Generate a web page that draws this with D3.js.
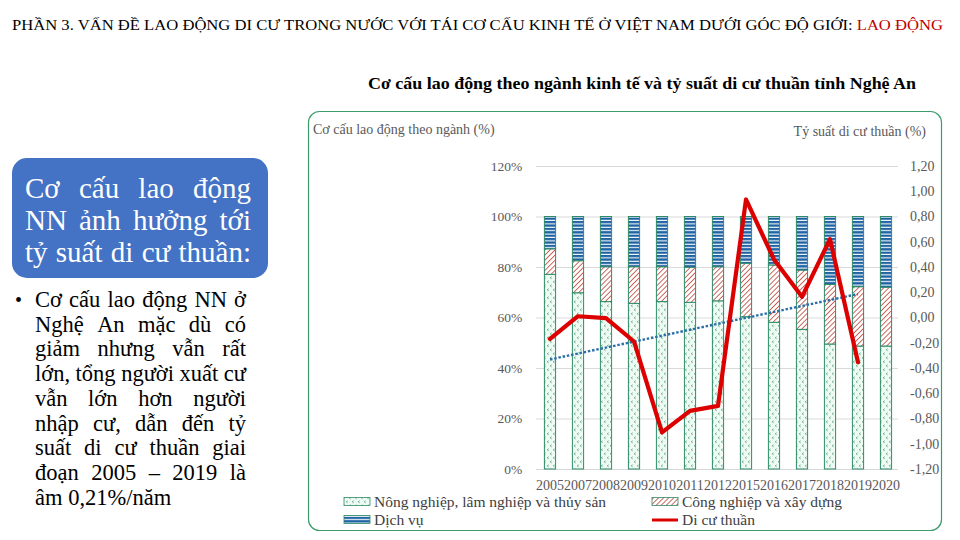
<!DOCTYPE html>
<html><head><meta charset="utf-8">
<script src="https://cdn.jsdelivr.net/npm/d3@7"></script>
<style>
body{margin:0;background:#fff}
svg{display:block}
text{font-family:"Liberation Serif","Times New Roman",serif}
</style>
</head><body>
<svg id="c" width="960" height="540"></svg>
<script>
// ---------------- data ----------------
const years = ["2005","2007","2008","2009","2010","2011","2012","2015","2016","2017","2018","2019","2020"];
const agriculture = [77.1, 69.8, 66.3, 65.6, 66.3, 66.0, 66.6, 60.3, 58.1, 55.3, 49.5, 48.7, 48.7];
const industry    = [10.1, 12.7, 13.8, 14.5, 13.8, 13.9, 13.5, 21.2, 22.7, 23.5, 23.6, 23.5, 23.3];
const services    = [12.8, 17.5, 19.9, 19.9, 19.9, 20.1, 19.9, 18.5, 19.2, 21.2, 26.9, 27.8, 28.0];
const netMigration = [-0.17, 0.01, -0.005, -0.19, -0.91, -0.74, -0.70, 0.935, 0.46, 0.164, 0.62, -0.354, null];
const leftTicks = [0, 0.2, 0.4, 0.6, 0.8, 1.0, 1.2];
const rightTicks = [-1.2, -1.0, -0.8, -0.6, -0.4, -0.2, 0, 0.2, 0.4, 0.6, 0.8, 1.0, 1.2];
const seriesNames = ["Nông nghiệp, lâm nghiệp và thủy sản", "Công nghiệp và xây dựng", "Dịch vụ", "Di cư thuần"];
const headerMain = "PHẦN 3. VẤN ĐỀ LAO ĐỘNG DI CƯ TRONG NƯỚC VỚI TÁI CƠ CẤU KINH TẾ Ở VIỆT NAM DƯỚI GÓC ĐỘ GIỚI: ";
const headerRed = "LAO ĐỘNG";
const chartTitle = "Cơ cấu lao động theo ngành kinh tế và tỷ suất di cư thuần tỉnh Nghệ An";
const leftAxisTitle = "Cơ cấu lao động theo ngành (%)";
const rightAxisTitle = "Tỷ suất di cư thuần (%)";
const boxLines = ["Cơ cấu lao động", "NN ảnh hưởng tới", "tỷ suất di cư thuần:"];
const bulletLines = ["Cơ cấu lao động NN ở", "Nghệ An mặc dù có", "giảm nhưng vẫn rất", "lớn, tổng người xuất cư",
  "vẫn lớn hơn người", "nhập cư, dẫn đến tỷ", "suất di cư thuần giai", "đoạn 2005 – 2019 là", "âm 0,21%/năm"];

// ---------------- setup ----------------
const svg = d3.select("#c");
const defs = svg.append("defs");

// patterns
const pA = defs.append("pattern").attr("id","pAgri").attr("patternUnits","userSpaceOnUse")
  .attr("width",6).attr("height",8);
pA.append("rect").attr("width",6).attr("height",8).attr("fill","#eefaf3");
pA.append("path").attr("d","M2.6,0.8 L1.2,1.8 L2.6,2.8 M5.6,4.8 L4.2,5.8 L5.6,6.8")
  .attr("fill","none").attr("stroke","#3f9e6a").attr("stroke-width",0.8);

const pI = defs.append("pattern").attr("id","pInd").attr("patternUnits","userSpaceOnUse")
  .attr("width",3.6).attr("height",3.6).attr("patternTransform","rotate(-45)");
pI.append("rect").attr("width",3.6).attr("height",3.6).attr("fill","#ffffff");
pI.append("rect").attr("width",3.6).attr("height",0.9).attr("fill","#c55a50");

const pS = defs.append("pattern").attr("id","pServ").attr("patternUnits","userSpaceOnUse")
  .attr("width",4).attr("height",3.4);
pS.append("rect").attr("width",4).attr("height",3.4).attr("fill","#ffffff");
pS.append("rect").attr("width",4).attr("height",2.3).attr("fill","#1f63a3");

// ---------------- header ----------------
const hdr = svg.append("text").attr("x",12).attr("y",30).attr("font-size",14.5).attr("fill","#000");
hdr.append("tspan").text(headerMain);
hdr.append("tspan").attr("fill","#c00000").text(headerRed);
hdr.attr("textLength",931).attr("lengthAdjust","spacingAndGlyphs");

// ---------------- left text ----------------
svg.append("rect").attr("x",12).attr("y",158).attr("width",256).attr("height",120)
  .attr("rx",15).attr("fill","#4472c4");

function justify(lineText, x0, x1, y, size, fill, doJustify) {
  const words = lineText.split(" ");
  const t = svg.append("text").attr("y",y).attr("font-size",size).attr("fill",fill);
  const spans = words.map(w => t.append("tspan").text(w));
  const widths = spans.map(s => s.node().getComputedTextLength());
  const total = d3.sum(widths);
  const spaceW = size * 0.25;
  let gap = spaceW;
  if (doJustify && words.length > 1) gap = (x1 - x0 - total) / (words.length - 1);
  let x = x0;
  spans.forEach((s, i) => { s.attr("x", x); x += widths[i] + gap; });
}
boxLines.forEach((l, i) => justify(l, 25, 251, 198 + i * 32, 29, "#ffffff", true));
svg.append("text").attr("x",15).attr("y",307).attr("font-size",20).attr("fill","#000").text("•");
bulletLines.forEach((l, i) => justify(l, 35, 246, 307 + i * 24.7, 22.5, "#000", i < bulletLines.length - 1));

// ---------------- chart ----------------
svg.append("text").attr("x",368).attr("y",89).attr("font-size",16.5).attr("font-weight","bold")
  .attr("fill","#000").text(chartTitle).attr("textLength",548).attr("lengthAdjust","spacingAndGlyphs");

svg.append("rect").attr("x",308.5).attr("y",111.5).attr("width",633).attr("height",419)
  .attr("rx",11).attr("fill","none").attr("stroke","#3d9c6b").attr("stroke-width",1.2);

svg.append("text").attr("x",313).attr("y",134).attr("font-size",14).attr("fill","#595959").text(leftAxisTitle);
svg.append("text").attr("x",926).attr("y",136).attr("text-anchor","end").attr("font-size",14)
  .attr("fill","#595959").text(rightAxisTitle);

const x = d3.scaleBand().domain(years).range([536, 900]).paddingInner(0.6).paddingOuter(0.3);
const yL = d3.scaleLinear().domain([0, 1.2]).range([469, 166]);
const yR = d3.scaleLinear().domain([-1.2, 1.2]).range([469, 166]);

// gridlines
svg.append("g").selectAll("line").data(leftTicks).join("line")
  .attr("x1",536).attr("x2",898).attr("y1",d=>yL(d)+0.5).attr("y2",d=>yL(d)+0.5)
  .attr("stroke","#d9d9d9").attr("stroke-width",1);

// left axis
const axL = svg.append("g").attr("transform","translate(528,0)")
  .call(d3.axisLeft(yL).tickValues(leftTicks).tickFormat(d3.format(".0%")).tickSize(0));
axL.select(".domain").remove();
axL.selectAll("text").attr("font-family","Liberation Serif").attr("font-size",13.5).attr("fill","#595959").attr("dx","-0.2em");

// right axis
const fmtR = d => d3.format(".2f")(d).replace(".", ",").replace("−","-");
const axR = svg.append("g").attr("transform","translate(904,0)")
  .call(d3.axisRight(yR).tickValues(rightTicks).tickFormat(fmtR).tickSize(0));
axR.select(".domain").remove();
axR.selectAll("text").attr("font-family","Liberation Serif").attr("font-size",14).attr("fill","#595959")
  .attr("x",6).attr("text-anchor","start");

// bottom axis
const axB = svg.append("g").attr("transform","translate(0,477)")
  .call(d3.axisBottom(x).tickSize(0));
axB.select(".domain").remove();
axB.selectAll("text").attr("font-family","Liberation Serif").attr("font-size",14).attr("fill","#595959");

// stacked bars
const rows = years.map((y, i) => ({year: y, agri: agriculture[i] / 100, ind: industry[i] / 100, serv: services[i] / 100}));
const stack = d3.stack().keys(["agri","ind","serv"])(rows);
const fills = {agri: "url(#pAgri)", ind: "url(#pInd)", serv: "url(#pServ)"};
svg.append("g").selectAll("g").data(stack).join("g")
  .attr("fill", d => fills[d.key])
  .selectAll("rect").data(d => d).join("rect")
  .attr("x", d => x(d.data.year)).attr("width", x.bandwidth())
  .attr("y", d => yL(d[1])).attr("height", d => yL(d[0]) - yL(d[1]))
  .attr("stroke","#2e8b68").attr("stroke-width",1);

// trendline (least squares of the net migration series)
const pts = netMigration.map((v, i) => ({i, v})).filter(d => d.v != null);
const mx = d3.mean(pts, d => d.i), my = d3.mean(pts, d => d.v);
const slope = d3.sum(pts, d => (d.i - mx) * (d.v - my)) / d3.sum(pts, d => (d.i - mx) ** 2);
const icpt = my - slope * mx;
const cx = i => x(years[i]) + x.bandwidth() / 2;
const tp = [pts[0].i, pts[pts.length - 1].i];
svg.append("line")
  .attr("x1", cx(tp[0])).attr("y1", yR(icpt + slope * tp[0]))
  .attr("x2", cx(tp[1])).attr("y2", yR(icpt + slope * tp[1]))
  .attr("stroke","#2a6fa8").attr("stroke-width",2.4).attr("stroke-dasharray","2.5,1.8");

// net migration line
const line = d3.line().defined(d => d != null).x((d, i) => cx(i)).y(d => yR(d));
svg.append("path").datum(netMigration).attr("d", line)
  .attr("fill","none").attr("stroke","#dd0000").attr("stroke-width",4.2)
  .attr("stroke-linejoin","round").attr("stroke-linecap","round");

// legend
const lg = svg.append("g");
const legendItems = [
  {name: seriesNames[0], x: 344, y: 502, type: "rect", fill: "url(#pAgri)"},
  {name: seriesNames[1], x: 652, y: 502, type: "rect", fill: "url(#pInd)"},
  {name: seriesNames[2], x: 344, y: 520, type: "rect", fill: "url(#pServ)"},
  {name: seriesNames[3], x: 652, y: 520, type: "line"}
];
legendItems.forEach(it => {
  if (it.type === "rect") {
    lg.append("rect").attr("x", it.x).attr("y", it.y - 4.5).attr("width", 26).attr("height", 8)
      .attr("fill", it.fill).attr("stroke", "#2e8b68").attr("stroke-width", 0.8);
  } else {
    lg.append("line").attr("x1", it.x).attr("x2", it.x + 26).attr("y1", it.y).attr("y2", it.y)
      .attr("stroke", "#dd0000").attr("stroke-width", 3);
  }
  lg.append("text").attr("x", it.x + 30).attr("y", it.y + 5).attr("font-size", 15.5)
    .attr("fill", "#404040").text(it.name);
});
</script>
</body></html>
